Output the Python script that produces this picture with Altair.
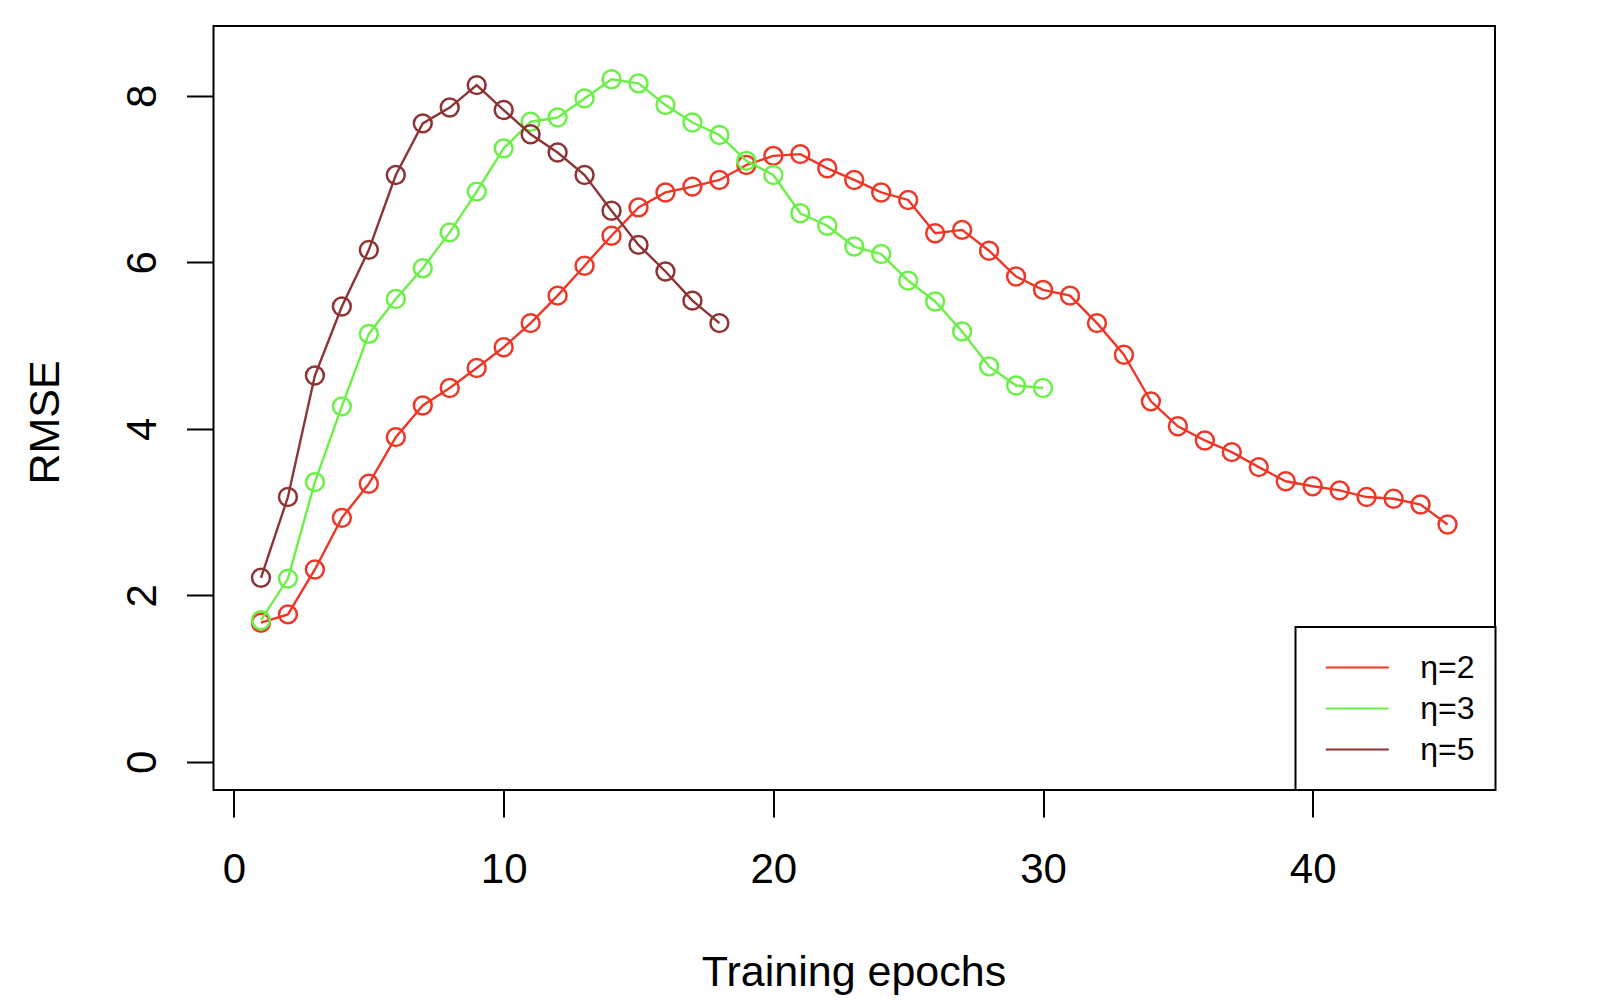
import altair as alt
import pandas as pd

# ---- data ----
epochs_eta2 = list(range(1, 46))
rmse_eta2 = [1.67, 1.77, 2.31, 2.93, 3.34, 3.90, 4.28, 4.49, 4.73, 4.98,
             5.27, 5.60, 5.96, 6.32, 6.66, 6.84, 6.91, 6.99, 7.17, 7.28,
             7.30, 7.13, 6.99, 6.84, 6.75, 6.35, 6.39, 6.14, 5.83, 5.67,
             5.60, 5.27, 4.89, 4.33, 4.03, 3.86, 3.72, 3.54, 3.37, 3.31,
             3.26, 3.18, 3.16, 3.09, 2.85]
epochs_eta3 = list(range(1, 31))
rmse_eta3 = [1.70, 2.20, 3.36, 4.27, 5.14, 5.56, 5.93, 6.36, 6.85, 7.37,
             7.69, 7.74, 7.97, 8.20, 8.15, 7.89, 7.68, 7.53, 7.22, 7.05,
             6.59, 6.44, 6.19, 6.10, 5.78, 5.53, 5.17, 4.75, 4.52, 4.49]
epochs_eta5 = list(range(1, 19))
rmse_eta5 = [2.21, 3.18, 4.64, 5.47, 6.15, 7.05, 7.67, 7.86, 8.13, 7.83,
             7.54, 7.32, 7.05, 6.62, 6.21, 5.89, 5.54, 5.27]

series_labels = ["η=2", "η=3", "η=5"]
series_colors = ["#EE3726", "#6AF046", "#8E3434"]
x_ticks = [0, 10, 20, 30, 40]
y_ticks = [0, 2, 4, 6, 8]

rows = []
for lab, eps, vals in zip(series_labels,
                          [epochs_eta2, epochs_eta3, epochs_eta5],
                          [rmse_eta2, rmse_eta3, rmse_eta5]):
    for e, v in zip(eps, vals):
        rows.append({"epoch": e, "rmse": v, "eta": lab})
df = pd.DataFrame(rows)

FONT = "Liberation Sans"

color_scale = alt.Scale(domain=series_labels, range=series_colors)

x_enc = alt.X(
    "epoch:Q",
    scale=alt.Scale(domain=[-0.76, 46.76], nice=False, zero=False),
    axis=alt.Axis(
        values=x_ticks, title="Training epochs", grid=False, domain=False,
        tickSize=27, tickWidth=2, tickColor="black",
        labelFont=FONT, labelFontSize=42, labelColor="black",
        labelPadding=32, labelBaseline="top", labelAlign="center",
        titleFont=FONT, titleFontSize=43, titleFontWeight="normal",
        titleColor="black", titleX=640, titleY=195,
        titleBaseline="alphabetic", titleAlign="center",
    ),
)
y_enc = alt.Y(
    "rmse:Q",
    scale=alt.Scale(domain=[-0.34, 8.84], nice=False, zero=False),
    axis=alt.Axis(
        values=y_ticks, title="RMSE", grid=False, domain=False,
        tickSize=27, tickWidth=2, tickColor="black",
        labelFont=FONT, labelFontSize=42, labelColor="black",
        labelAngle=270, labelAlign="center", labelBaseline="bottom",
        labelPadding=22,
        titleFont=FONT, titleFontSize=43, titleFontWeight="normal",
        titleColor="black", titleAngle=270, titleX=-168, titleY=396,
        titleBaseline="middle", titleAlign="center",
    ),
)

legend = alt.Legend(
    orient="none", legendX=1082, legendY=601, title=None,
    symbolType="M-2,0H2", symbolSize=992, symbolStrokeWidth=2,
    labelFont=FONT, labelFontSize=32, labelColor="black",
    padding=20, clipHeight=41, rowPadding=0,
    symbolOffset=24.8, labelOffset=46,
    strokeColor="black", fillColor="white",
)

layers = []
for lab in series_labels:
    sub = df[df["eta"] == lab]
    line = alt.Chart(sub).mark_line(strokeWidth=2.4).encode(
        x=x_enc, y=y_enc,
        color=alt.Color("eta:N", scale=color_scale, legend=legend),
    )
    pts = alt.Chart(sub).mark_point(
        shape="circle", filled=False, size=320, strokeWidth=2.5, opacity=1
    ).encode(
        x=x_enc, y=y_enc,
        stroke=alt.Stroke("eta:N", scale=color_scale, legend=None),
    )
    layers += [line, pts]

chart = alt.layer(*layers).properties(
    width=1281.5, height=764,
    autosize=alt.AutoSizeParams(type="none"),
    padding={"left": 205.5, "top": 18, "right": 115, "bottom": 207},
    background="white",
).configure_view(
    stroke="black", strokeWidth=2
).configure_legend(
    strokeWidth=2
)

chart.save("out.html", embed_options={"renderer": "svg", "actions": False})
